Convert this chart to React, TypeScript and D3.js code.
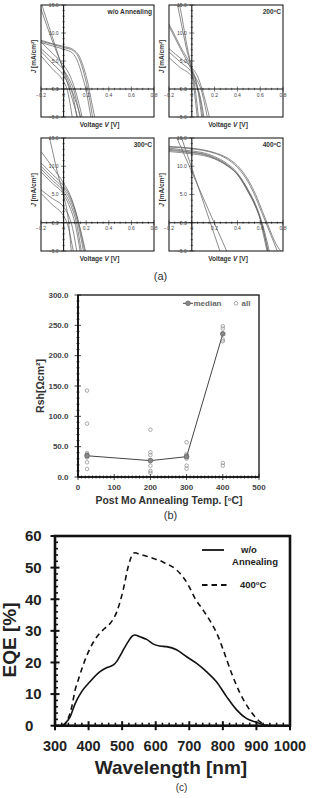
import React, { useEffect, useRef } from 'react';
import * as d3 from 'd3';

type Pt = [number, number];

// (a) J-V curves per annealing condition, [V, J] pairs
const woAnnealCurves: Pt[][] = [
  [[-0.2, 8.7], [-0.1, 8.1], [0, 7.6], [0.08, 7.1], [0.14, 5.8], [0.19, 3], [0.22, 0.6], [0.24, -1.5], [0.28, -5.5]],
  [[-0.2, 8.5], [-0.1, 8], [0, 7.4], [0.08, 6.9], [0.14, 5.3], [0.18, 2.8], [0.21, 0.3], [0.23, -1.8], [0.26, -5.5]],
  [[-0.2, 8.3], [-0.1, 7.7], [0, 7.1], [0.08, 6.4], [0.13, 4.6], [0.17, 2], [0.2, -0.3], [0.22, -2.5], [0.245, -5.5]],
  [[-0.2, 15.5], [-0.1, 9.3], [0, 3.2], [0.05, 0], [0.13, -5.5]],
  [[-0.2, 14.3], [-0.1, 8.6], [0, 3.5], [0.07, 0], [0.16, -5.5]],
  [[-0.2, 8.4], [-0.1, 6.4], [0, 4.3], [0.06, 2.2], [0.1, 0], [0.17, -5.5]],
  [[-0.2, 7.2], [-0.1, 5.4], [0, 3.4], [0.06, 1.3], [0.09, -0.2], [0.15, -5.5]],
  [[-0.2, 6.7], [-0.1, 4.6], [0, 2.4], [0.05, 0.5], [0.08, -1], [0.12, -5.5]],
  [[-0.2, 5.9], [-0.1, 3.6], [0, 1.3], [0.03, 0], [0.08, -5.5]],
];

const anneal200Curves: Pt[][] = [
  [[-0.2, 22], [-0.13, 15.5], [-0.05, 7.5], [0, 3], [0.02, 0], [0.05, -5.5]],
  [[-0.2, 20], [-0.11, 15.2], [-0.04, 7.5], [0, 3.5], [0.03, 0], [0.06, -5.5]],
  [[-0.2, 11.6], [-0.1, 7.6], [0, 3.7], [0.04, 1.2], [0.06, -1], [0.09, -5.5]],
  [[-0.2, 11.2], [-0.1, 7.2], [0, 3.2], [0.05, 0.4], [0.09, -3], [0.11, -5.5]],
  [[-0.2, 7.2], [-0.1, 5.5], [0, 3.8], [0.05, 2.3], [0.09, 0], [0.13, -3], [0.16, -5.5]],
  [[-0.2, 6.6], [-0.1, 4.8], [0, 3], [0.05, 1.4], [0.08, 0], [0.14, -5.5]],
  [[-0.2, 5.6], [-0.1, 3.8], [0, 2.2], [0.04, 0.6], [0.07, -1.5], [0.1, -5.5]],
];

const anneal300Curves: Pt[][] = [
  [[-0.2, 19], [-0.13, 15.3], [-0.05, 8.5], [0, 4.8], [0.04, 0.8], [0.07, -5.5]],
  [[-0.2, 12.6], [-0.1, 9.9], [0, 7], [0.06, 4.8], [0.11, 1.8], [0.14, -0.5], [0.2, -5.5]],
  [[-0.2, 10.6], [-0.1, 8.6], [0, 6.5], [0.07, 4], [0.12, 1], [0.15, -1.5], [0.19, -5.5]],
  [[-0.2, 10], [-0.1, 8], [0, 6], [0.07, 3.5], [0.12, 0.4], [0.18, -5.5]],
  [[-0.2, 9.5], [-0.1, 7.5], [0, 5.5], [0.07, 2.8], [0.11, 0.3], [0.16, -5.5]],
  [[-0.2, 9], [-0.1, 7], [0, 5], [0.06, 2.5], [0.1, 0], [0.15, -5.5]],
  [[-0.2, 5.8], [-0.1, 4.3], [0, 2.8], [0.05, 1], [0.08, -1], [0.12, -5.5]],
  [[-0.2, 5.2], [-0.1, 3.2], [0, 1.2], [0.03, 0], [0.09, -5.5]],
];

const anneal400Curves: Pt[][] = [
  [[-0.2, 13.2], [0, 12.7], [0.1, 12.4], [0.2, 11.7], [0.3, 10.6], [0.4, 8.8], [0.5, 5.5], [0.56, 3], [0.6, 0.8], [0.63, -1.5], [0.67, -5.5]],
  [[-0.2, 13], [0, 12.5], [0.1, 12.2], [0.2, 11.5], [0.3, 10.4], [0.4, 8.6], [0.5, 5.3], [0.56, 2.9], [0.6, 0.7], [0.635, -2], [0.675, -5.5]],
  [[-0.2, 12.8], [0, 12.4], [0.1, 12.1], [0.2, 11.4], [0.3, 10.3], [0.4, 8.5], [0.5, 5.2], [0.56, 2.8], [0.6, 0.6], [0.625, -1.8], [0.665, -5.5]],
  [[-0.2, 12.6], [0, 12.2], [0.1, 11.9], [0.2, 11.3], [0.3, 10.2], [0.4, 8.6], [0.5, 5.6], [0.56, 3.2], [0.61, 0.4], [0.65, -2.5], [0.685, -5.5]],
  [[-0.2, 13.4], [0, 13.1], [0.1, 12.8], [0.2, 12.3], [0.3, 11.4], [0.4, 9.8], [0.5, 7], [0.56, 4.5], [0.61, 2], [0.65, 0], [0.72, -3.5], [0.76, -5.5]],
  [[-0.2, 13.5], [0, 13.2], [0.1, 12.9], [0.2, 12.4], [0.3, 11.6], [0.4, 10.1], [0.5, 7.4], [0.56, 5], [0.62, 2], [0.67, -0.5], [0.74, -3.8], [0.8, -5.5]],
  [[-0.2, 18.2], [0, 9.0], [0.31, -5.2]],
  [[-0.2, 21.6], [0, 9.7], [0.26, -5.8]],
];

const jvXTicks = [-0.2, 0, 0.2, 0.4, 0.6, 0.8];
const jvYTicks = [-5, 0, 5, 10, 15];

// (b) shunt resistance vs post Mo annealing temperature
const rshTemps = [25, 200, 300, 400];
const rshMedian = [35, 27, 33.5, 236];
const rshAll: Pt[] = [
  [25, 142.5], [25, 88], [25, 39.6], [25, 37.4], [25, 35.2], [25, 32.5], [25, 24.2], [25, 13.2],
  [200, 78], [200, 40.7], [200, 36.3], [200, 27], [200, 18.7], [200, 10], [200, 7],
  [300, 57.2], [300, 38], [300, 35.8], [300, 33.5], [300, 30.3], [300, 18.7], [300, 13.8],
  [400, 248.5], [400, 244.7], [400, 236], [400, 226.6], [400, 223.8], [400, 23.1], [400, 18.7],
];
const rshXTicks = [0, 100, 200, 300, 400, 500];
const rshYTicks = [0, 50, 100, 150, 200, 250, 300];

// (c) EQE spectra, [wavelength nm, EQE %]
const eqeNoAnneal: Pt[] = [
  [315, 0], [325, 0.3], [335, 1.3], [345, 2.8], [360, 7], [379, 10.7], [404, 13.9], [434, 17.1],
  [455, 18.4], [474, 19.2], [485, 20.5], [498, 22.9], [518, 26.6], [530, 28.3], [538, 28.7], [553, 28.1],
  [573, 27.3], [593, 25.8], [613, 25.2], [632, 25], [662, 24], [692, 21.8], [722, 19.7], [751, 17.1],
  [781, 13.9], [811, 9.2], [841, 5], [870, 2.3], [900, 1.1], [920, 0.3], [940, 0],
];
const eqe400: Pt[] = [
  [322, 0], [330, 0.5], [340, 2.5], [350, 6], [360, 11.3], [369, 14.4], [384, 19.2], [404, 24.4],
  [429, 28.7], [445, 30.5], [464, 32.3], [484, 36], [503, 42.9], [518, 50.3], [530, 54], [538, 54.7],
  [553, 54.2], [573, 53.6], [593, 52.9], [613, 52.2], [630, 51.3], [662, 49.3], [697, 44.5], [717, 40.3],
  [741, 36.6], [766, 32.4], [785, 28.5], [801, 24], [826, 16.6], [851, 10.3], [880, 5], [910, 1.3],
  [925, 0.2], [940, 0],
];
const eqeXTicks = [300, 400, 500, 600, 700, 800, 900, 1000];
const eqeYTicks = [0, 10, 20, 30, 40, 50, 60];

const FONT = '"Liberation Sans", Arial, sans-serif';

function drawJV(svg: any, id: string, curves: Pt[][], title: string, deg: boolean,
  x0: number, y0: number, w: number, h: number) {
  const x = d3.scaleLinear().domain([-0.2, 0.8]).range([x0, x0 + w]);
  const y = d3.scaleLinear().domain([-5, 15]).range([y0 + h, y0]);
  const g = svg.append('g');

  g.append('clipPath').attr('id', id)
    .append('rect').attr('x', x0).attr('y', y0).attr('width', w).attr('height', h);

  const line = d3.line<Pt>().x(d => x(d[0])).y(d => y(d[1])).curve(d3.curveMonotoneX);
  g.append('g').attr('clip-path', `url(#${id})`)
    .selectAll('path').data(curves).join('path')
    .attr('d', line).attr('fill', 'none').attr('stroke', '#666').attr('stroke-width', 0.75);

  // minor/major ticks on the origin axes
  g.selectAll('.yt').data(d3.range(-5, 15.01, 1)).join('line')
    .attr('x1', d => x(0) - (d % 5 === 0 ? 2.5 : 1.2)).attr('x2', d => x(0) + (d % 5 === 0 ? 2.5 : 1.2))
    .attr('y1', d => y(d)).attr('y2', d => y(d)).attr('stroke', '#222').attr('stroke-width', 0.6);
  g.selectAll('.xt').data(d3.range(-0.2, 0.801, 0.05)).join('line')
    .attr('x1', d => x(d)).attr('x2', d => x(d))
    .attr('y1', (d, i) => y(0) - (i % 4 === 0 ? 2.5 : 1.2)).attr('y2', (d, i) => y(0) + (i % 4 === 0 ? 2.5 : 1.2))
    .attr('stroke', '#222').attr('stroke-width', 0.6);

  g.append('rect').attr('x', x0).attr('y', y0).attr('width', w).attr('height', h)
    .attr('fill', 'none').attr('stroke', '#222').attr('stroke-width', 1.1);
  g.append('line').attr('x1', x(0)).attr('x2', x(0)).attr('y1', y0).attr('y2', y0 + h)
    .attr('stroke', '#111').attr('stroke-width', 1.1);
  g.append('line').attr('x1', x0).attr('x2', x0 + w).attr('y1', y(0)).attr('y2', y(0))
    .attr('stroke', '#111').attr('stroke-width', 1.1);

  g.selectAll('.yl').data(jvYTicks).join('text')
    .attr('x', x(0) - 5).attr('y', d => y(d)).attr('dy', '0.35em')
    .attr('text-anchor', 'end').attr('font-size', 5).attr('fill', '#444')
    .attr('font-family', FONT).text(d => d3.format('.1f')(d));
  g.selectAll('.xl').data(jvXTicks).join('text')
    .attr('x', d => x(d)).attr('y', y(0) + 7.5)
    .attr('text-anchor', 'middle').attr('font-size', 5).attr('fill', '#444')
    .attr('font-family', FONT).text(d => (d === 0 ? '0' : d3.format('.1f')(d)));

  const t = g.append('text').attr('x', x0 + w - 2).attr('y', y0 + 9)
    .attr('text-anchor', 'end').attr('font-size', 6.6).attr('font-weight', 'bold')
    .attr('fill', '#333').attr('font-family', FONT);
  t.append('tspan').text(title);
  if (deg) {
    t.append('tspan').attr('font-size', 4.2).attr('dy', -2.3).text('o');
    t.append('tspan').attr('dy', 2.3).text('C');
  }

  const xl = g.append('text').attr('x', x0 + w / 2 + 2).attr('y', y0 + h + 10)
    .attr('text-anchor', 'middle').attr('font-size', 6.5).attr('font-weight', 'bold')
    .attr('fill', '#333').attr('font-family', FONT);
  xl.append('tspan').text('Voltage  ');
  xl.append('tspan').attr('font-style', 'italic').text('V');
  xl.append('tspan').text('  [V]');

  const yl = g.append('text')
    .attr('transform', `translate(${x0 - 5},${y0 + h * 0.46}) rotate(-90)`)
    .attr('text-anchor', 'middle').attr('font-size', 6.5).attr('font-weight', 'bold')
    .attr('fill', '#333').attr('font-family', FONT);
  yl.append('tspan').attr('font-style', 'italic').text('J');
  yl.append('tspan').text(' [mA/cm²]');
}

export default function App() {
  const svgRef = useRef<SVGSVGElement>(null);

  useEffect(() => {
    const svg = d3.select(svgRef.current);
    svg.selectAll('*').remove();

    // ---------- (a) ----------
    drawJV(svg, 'c1', woAnnealCurves, 'w/o Annealing', false, 41, 5, 113, 112);
    drawJV(svg, 'c2', anneal200Curves, '200', true, 169, 5, 114, 112);
    drawJV(svg, 'c3', anneal300Curves, '300', true, 41, 138, 113, 113);
    drawJV(svg, 'c4', anneal400Curves, '400', true, 169, 138, 114, 113);

    svg.append('text').attr('x', 160.5).attr('y', 280).attr('text-anchor', 'middle')
      .attr('font-size', 11).attr('font-family', FONT).attr('fill', '#333').text('(a)');

    // ---------- (b) ----------
    const xb = d3.scaleLinear().domain([0, 500]).range([78, 259]);
    const yb = d3.scaleLinear().domain([0, 300]).range([477, 295]);
    const gb = svg.append('g');

    gb.append('rect').attr('x', xb(0)).attr('y', yb(300)).attr('width', xb(500) - xb(0))
      .attr('height', yb(0) - yb(300)).attr('fill', 'none').attr('stroke', '#222').attr('stroke-width', 1.4);
    gb.append('line').attr('x1', xb(0)).attr('x2', xb(0)).attr('y1', yb(0)).attr('y2', yb(300))
      .attr('stroke', '#111').attr('stroke-width', 1.8);
    gb.append('line').attr('x1', xb(0)).attr('x2', xb(500)).attr('y1', yb(0)).attr('y2', yb(0))
      .attr('stroke', '#111').attr('stroke-width', 1.6);

    gb.selectAll('.bxm').data(d3.range(0, 501, 10)).join('line')
      .attr('x1', d => xb(d)).attr('x2', d => xb(d))
      .attr('y1', d => yb(0) - (d % 100 === 0 ? 3 : 1.5)).attr('y2', d => yb(0) + (d % 100 === 0 ? 3 : 1.5))
      .attr('stroke', '#111').attr('stroke-width', 0.8);
    gb.selectAll('.bym').data(d3.range(0, 301, 10)).join('line')
      .attr('x1', d => xb(0) - (d % 50 === 0 ? 3.5 : 1.5)).attr('x2', d => xb(0) + (d % 50 === 0 ? 3 : 1.5))
      .attr('y1', d => yb(d)).attr('y2', d => yb(d))
      .attr('stroke', '#111').attr('stroke-width', 0.8);

    gb.selectAll('.byl').data(rshYTicks).join('text')
      .attr('x', 68.5).attr('y', d => yb(d)).attr('dy', '0.35em').attr('text-anchor', 'end')
      .attr('font-size', 8).attr('font-weight', 'bold').attr('fill', '#444')
      .attr('font-family', FONT).text(d => d3.format('.1f')(d));
    gb.selectAll('.bxl').data(rshXTicks).join('text')
      .attr('x', d => xb(d)).attr('y', 489.5).attr('text-anchor', 'middle')
      .attr('font-size', 8).attr('font-weight', 'bold').attr('fill', '#444')
      .attr('font-family', FONT).text(d => d);

    const medPts: Pt[] = rshTemps.map((t, i) => [t, rshMedian[i]]);
    gb.append('path').datum(medPts)
      .attr('d', d3.line<Pt>().x(d => xb(d[0])).y(d => yb(d[1])))
      .attr('fill', 'none').attr('stroke', '#444').attr('stroke-width', 1);
    gb.selectAll('.all').data(rshAll).join('circle')
      .attr('cx', d => xb(d[0])).attr('cy', d => yb(d[1])).attr('r', 1.8)
      .attr('fill', 'none').attr('stroke', '#888').attr('stroke-width', 0.7);
    gb.selectAll('.med').data(medPts).join('circle')
      .attr('cx', d => xb(d[0])).attr('cy', d => yb(d[1])).attr('r', 2.4)
      .attr('fill', '#888').attr('stroke', '#555').attr('stroke-width', 0.6);

    // legend
    gb.append('line').attr('x1', 183).attr('x2', 193).attr('y1', 303.3).attr('y2', 303.3)
      .attr('stroke', '#444').attr('stroke-width', 1);
    gb.append('circle').attr('cx', 188).attr('cy', 303.3).attr('r', 2.4)
      .attr('fill', '#888').attr('stroke', '#555').attr('stroke-width', 0.6);
    gb.append('text').attr('x', 193.5).attr('y', 306).attr('font-size', 8).attr('font-weight', 'bold')
      .attr('fill', '#666').attr('font-family', FONT).text('median');
    gb.append('circle').attr('cx', 236).attr('cy', 303.3).attr('r', 1.8)
      .attr('fill', 'none').attr('stroke', '#888').attr('stroke-width', 0.7);
    gb.append('text').attr('x', 241.5).attr('y', 306).attr('font-size', 8).attr('font-weight', 'bold')
      .attr('fill', '#666').attr('font-family', FONT).text('all');

    gb.append('text').attr('transform', `translate(44,386) rotate(-90)`)
      .attr('text-anchor', 'middle').attr('font-size', 10.5).attr('font-weight', 'bold')
      .attr('fill', '#333').attr('font-family', FONT).text('Rsh[Ωcm²]');
    const bxl = gb.append('text').attr('x', 169).attr('y', 504).attr('text-anchor', 'middle')
      .attr('font-size', 10.4).attr('font-weight', 'bold').attr('fill', '#333').attr('font-family', FONT);
    bxl.append('tspan').text('Post Mo Annealing Temp. [');
    bxl.append('tspan').attr('font-size', 6).attr('dy', -3.5).text('o');
    bxl.append('tspan').attr('dy', 3.5).text('C]');
    gb.append('text').attr('x', 170.5).attr('y', 519).attr('text-anchor', 'middle')
      .attr('font-size', 11).attr('font-family', FONT).attr('fill', '#333').text('(b)');

    // ---------- (c) ----------
    const xc = d3.scaleLinear().domain([300, 1000]).range([55, 290]);
    const yc = d3.scaleLinear().domain([0, 60]).range([725.7, 536]);
    const gc = svg.append('g');

    const eqeLine = d3.line<Pt>().x(d => xc(d[0])).y(d => yc(d[1])).curve(d3.curveMonotoneX);
    gc.append('path').datum(eqe400).attr('d', eqeLine).attr('fill', 'none')
      .attr('stroke', '#111').attr('stroke-width', 1.6).attr('stroke-dasharray', '5.5,4');
    gc.append('path').datum(eqeNoAnneal).attr('d', eqeLine).attr('fill', 'none')
      .attr('stroke', '#111').attr('stroke-width', 1.6);

    gc.selectAll('.cxm').data(d3.range(300, 1001, 20)).join('line')
      .attr('x1', d => xc(d)).attr('x2', d => xc(d))
      .attr('y1', d => yc(0) - (d % 100 === 0 ? 4.5 : 3)).attr('y2', d => yc(0) + (d % 100 === 0 ? 4.5 : 0))
      .attr('stroke', '#111').attr('stroke-width', d => (d % 100 === 0 ? 2 : 1.6));
    gc.selectAll('.cym').data(d3.range(0, 61, 2)).join('line')
      .attr('x1', d => xc(300) - (d % 10 === 0 ? 4.5 : 0)).attr('x2', d => xc(300) + (d % 10 === 0 ? 4.5 : 3))
      .attr('y1', d => yc(d)).attr('y2', d => yc(d))
      .attr('stroke', '#111').attr('stroke-width', d => (d % 10 === 0 ? 2 : 1.6));

    gc.append('rect').attr('x', xc(300)).attr('y', yc(60)).attr('width', xc(1000) - xc(300))
      .attr('height', yc(0) - yc(60)).attr('fill', 'none').attr('stroke', '#111').attr('stroke-width', 2.6);

    gc.selectAll('.cyl').data(eqeYTicks).join('text')
      .attr('x', 25).attr('y', d => yc(d)).attr('dy', '0.36em')
      .attr('font-size', 15).attr('font-weight', 'bold').attr('fill', '#222')
      .attr('font-family', FONT).text(d => d);
    gc.selectAll('.cxl').data(eqeXTicks).join('text')
      .attr('x', d => xc(d)).attr('y', 750.5).attr('text-anchor', 'middle')
      .attr('font-size', 14.5).attr('font-weight', 'bold').attr('fill', '#222')
      .attr('font-family', FONT).text(d => d);

    gc.append('text').attr('transform', `translate(16,640) rotate(-90)`)
      .attr('text-anchor', 'middle').attr('font-size', 19).attr('font-weight', 'bold')
      .attr('fill', '#222').attr('font-family', FONT).text('EQE [%]');
    gc.append('text').attr('x', 171).attr('y', 774).attr('text-anchor', 'middle')
      .attr('font-size', 19).attr('font-weight', 'bold').attr('fill', '#222')
      .attr('font-family', FONT).text('Wavelength [nm]');
    gc.append('text').attr('x', 181.5).attr('y', 791).attr('text-anchor', 'middle')
      .attr('font-size', 10).attr('font-family', FONT).attr('fill', '#333').text('(c)');

    // legend
    gc.append('line').attr('x1', 202).attr('x2', 224).attr('y1', 550).attr('y2', 550)
      .attr('stroke', '#111').attr('stroke-width', 1.8);
    gc.append('line').attr('x1', 202).attr('x2', 229).attr('y1', 585).attr('y2', 585)
      .attr('stroke', '#111').attr('stroke-width', 1.8).attr('stroke-dasharray', '5.5,4');
    gc.append('text').attr('x', 249).attr('y', 553).attr('text-anchor', 'middle')
      .attr('font-size', 9.5).attr('font-weight', 'bold').attr('fill', '#222')
      .attr('font-family', FONT).text('w/o');
    gc.append('text').attr('x', 255).attr('y', 565).attr('text-anchor', 'middle')
      .attr('font-size', 9.5).attr('font-weight', 'bold').attr('fill', '#222')
      .attr('font-family', FONT).text('Annealing');
    const lt = gc.append('text').attr('x', 240).attr('y', 588)
      .attr('font-size', 9.5).attr('font-weight', 'bold').attr('fill', '#222').attr('font-family', FONT);
    lt.append('tspan').text('400');
    lt.append('tspan').attr('font-size', 6).attr('dy', -3.5).text('o');
    lt.append('tspan').attr('dy', 3.5).text('C');
  }, []);

  return (
    <svg ref={svgRef} width={315} height={798}
      style={{ position: 'absolute', left: 0, top: 0, background: '#fff' }} />
  );
}
